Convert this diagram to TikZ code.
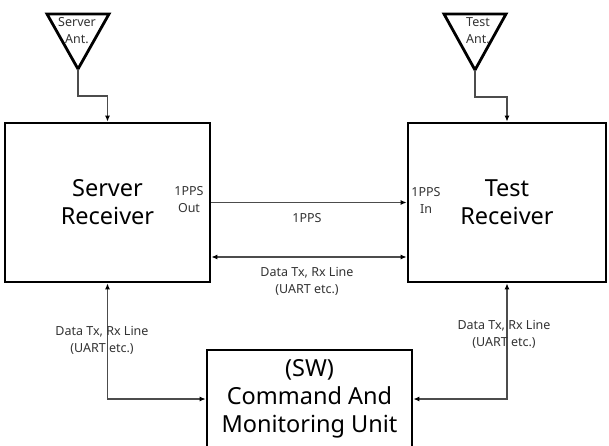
\documentclass[tikz,border=0pt]{standalone}
\usepackage{fontspec}
\setmainfont{Noto Sans}
\usetikzlibrary{positioning}
\usetikzlibrary{arrows.meta}

\begin{document}
\begin{tikzpicture}[x=1pt,y=-1pt,
    box/.style={draw,line width=2.8pt,inner sep=0pt},
    big/.style={font=\fontsize{23.5}{28}\selectfont,align=center},
    small/.style={font=\fontsize{12.5}{17}\selectfont,align=center,text=black!80},
    wire/.style={draw=black!70,line width=1.1pt},
    tip/.style={-{Latex[length=6pt,width=5pt,color=black]}},
    both/.style={{Latex[length=6pt,width=5pt,color=black]}-{Latex[length=6pt,width=5pt,color=black]}},
    ant/.style={draw,line width=2.8pt,line join=miter}]
    \useasboundingbox (0,0) rectangle (609,445);

    % receivers and control unit
    \node(srv) [box,big,minimum width=205pt,minimum height=159pt] at (107.5,202.5) {Server\\Receiver};
    \node(tst) [box,big,minimum width=198pt,minimum height=159pt] at (507,202.5) {Test\\Receiver};
    \node(cmd) [box,big,minimum width=205pt,minimum height=98pt] at (309.5,399) {(SW)\\Command And\\Monitoring Unit};

    % antennas
    \coordinate(sapex) at (78,69);
    \coordinate(tapex) at (475,70);
    \draw[ant] (47,14) -- (109,14) -- (sapex) -- cycle;
    \draw[ant] (444,14) -- (506,14) -- (tapex) -- cycle;
    \node(sant) [small] at (77,31) {Server\\Ant.};
    \node(tant) [small] at (478,31) {Test\\Ant.};
    \draw[wire,tip](sapex) -- ++(0,27) -| (srv.north);
    \draw[wire,tip](tapex) -- ++(0,27) -| (tst.north);

    % 1PPS
    \node(pout) [small] at (189,200) {1PPS\\Out};
    \node(pin) [small] at (426,200) {1PPS\\In};
    \draw[wire,tip](srv.east) -- (tst.west);
    \node(pps) [small] at (307,218) {1PPS};

    % data lines
    \draw[wire,both]([yshift=-54.5pt]srv.east) -- ([yshift=-54.5pt]tst.west);
    \node(mid) [small] at (307,281) {Data Tx, Rx Line\\(UART etc.)};
    \draw[wire,both](srv.south) |- (cmd.west);
    \draw[wire,both](tst.south) |- (cmd.east);
    \node(ldat) [small] at (102,340) {Data Tx, Rx Line\\(UART etc.)};
    \node(rdat) [small] at (504,334) {Data Tx, Rx Line\\(UART etc.)};
  \end{tikzpicture}
\end{document}
